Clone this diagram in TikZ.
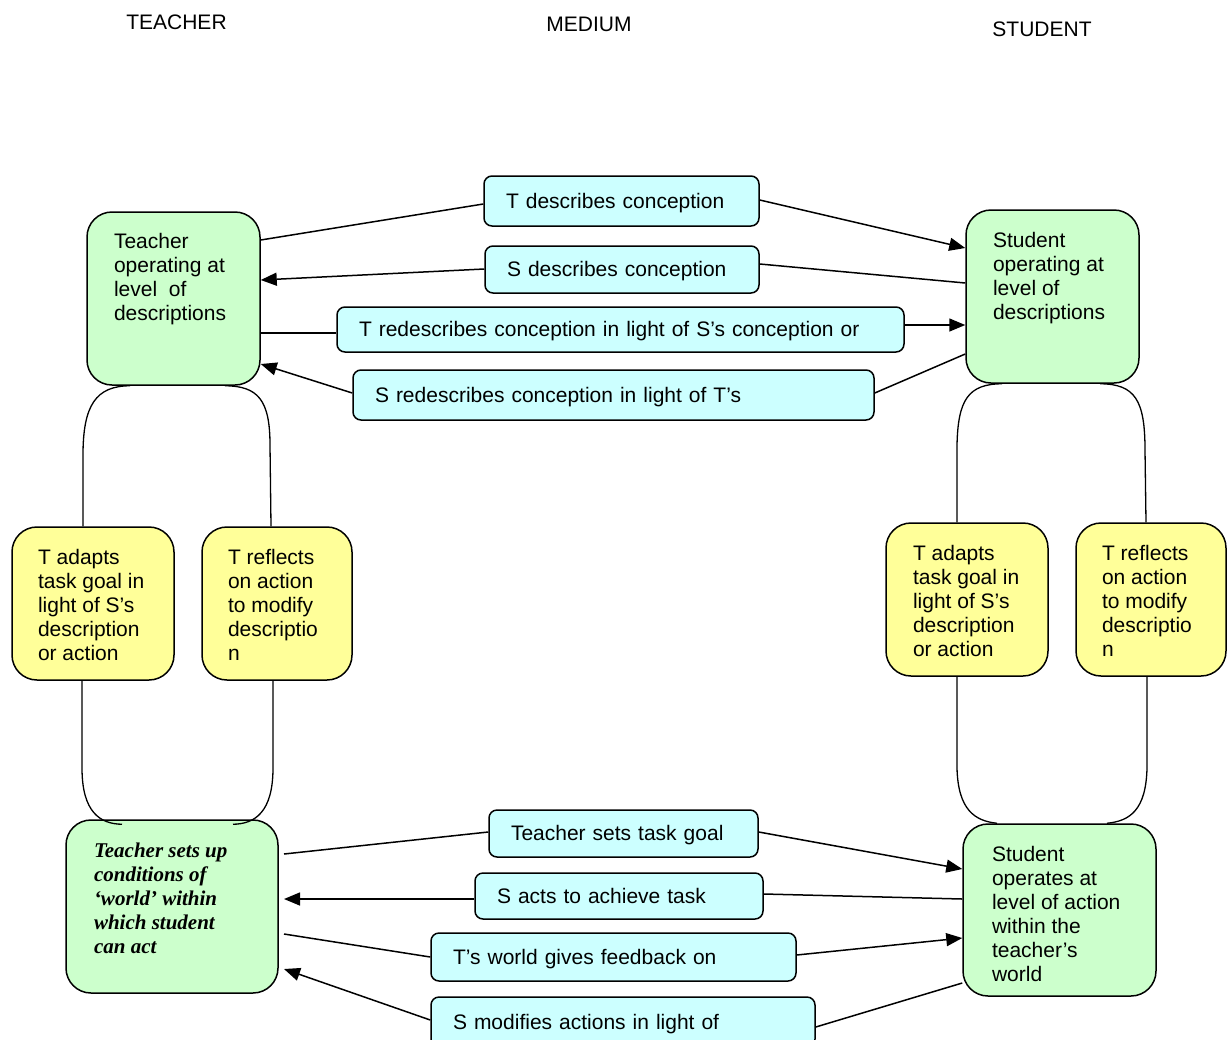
\documentclass[tikz,border=0pt]{standalone}
\usepackage{fontspec}
\setmainfont{Liberation Sans}
\newfontfamily\serifbi{Liberation Serif}
\usetikzlibrary{arrows.meta,calc}
\definecolor{gfill}{HTML}{CCFFCC}
\definecolor{cfill}{HTML}{CCFFFF}
\definecolor{yfill}{HTML}{FFFF99}
\newcommand{\boxtxt}[3]{\parbox[c][#2][t]{#1}{#3}}
\begin{document}
\begin{tikzpicture}[x=1pt,y=-1pt,
  every node/.style={font=\fontsize{21}{24}\selectfont},
  bigbox/.style={draw, line width=1.5pt, rounded corners=25pt, inner sep=0pt},
  gbox/.style={bigbox, fill=gfill},
  ybox/.style={bigbox, fill=yfill},
  cbox/.style={draw, line width=1.5pt, fill=cfill, rounded corners=8pt, inner xsep=22pt, inner ysep=0pt, align=left, text height=14pt, text depth=0pt},
  conn/.style={line width=1.5pt},
  arr/.style={conn, -{Triangle[length=16pt,width=13pt]}},
  curve/.style={line width=1.3pt},
  title/.style={inner sep=0pt}]
\clip (0,0) rectangle (1228,1039);
\fill[white] (0,0) rectangle (1228,1039);

% titles
\node[title] (tT) at (176.5,22) {TEACHER};
\node[title] (tM) at (589,24) {MEDIUM};
\node[title] (tS) at (1042,29) {STUDENT};

% green boxes
\node[gbox, minimum width=173pt, minimum height=173pt] (TD) at (173.5,298.5)
  {\boxtxt{119pt}{131pt}{Teacher\\operating at\\level\ \ of\\descriptions}};
\node[gbox, minimum width=173pt, minimum height=173pt] (SD) at (1052.5,296.5)
  {\boxtxt{119pt}{129pt}{Student\\operating at\\level of\\descriptions}};
\node[gbox, minimum width=212pt, minimum height=173pt, outer xsep=6pt] (TA) at (172,906.5)
  {\boxtxt{156pt}{127pt}{\serifbi\bfseries\itshape Teacher sets up\\conditions of\\‘world’ within\\which student\\can act}};
\node[gbox, minimum width=193pt, minimum height=172pt] (SA) at (1059.5,910)
  {\boxtxt{135pt}{128pt}{Student\\operates at\\level of action\\within the\\teacher’s\\world}};

% yellow boxes
\node[ybox, minimum width=162pt, minimum height=153pt] (L1) at (93,603.5)
  {\boxtxt{110pt}{109pt}{T adapts\\task goal in\\light of S’s\\description\\or action}};
\node[ybox, minimum width=150pt, minimum height=153pt] (L2) at (277,603.5)
  {\boxtxt{98pt}{109pt}{T reflects\\on action\\to modify\\descriptio\\n}};
\node[ybox, minimum width=162pt, minimum height=153pt] (R1) at (967,599.5)
  {\boxtxt{108pt}{109pt}{T adapts\\task goal in\\light of S’s\\description\\or action}};
\node[ybox, minimum width=150pt, minimum height=153pt] (R2) at (1151,599.5)
  {\boxtxt{98pt}{109pt}{T reflects\\on action\\to modify\\descriptio\\n}};

% cyan boxes
\node[cbox, text width=231pt, minimum height=50pt] (C1) at (621.5,201) {T describes conception};
\node[cbox, text width=230pt, minimum height=47pt] (C2) at (622,269.5) {S describes conception};
\node[cbox, text width=523pt, minimum height=45pt] (C3) at (620.5,329.5) {T redescribes conception in light of S’s conception or};
\node[cbox, text width=477pt, minimum height=50pt] (C4) at (613.5,395) {S redescribes conception in light of T’s};
\node[cbox, text width=225pt, minimum height=47pt] (C5) at (623.5,833.5) {Teacher sets task goal};
\node[cbox, text width=244pt, minimum height=46pt] (C6) at (619,896) {S acts to achieve task};
\node[cbox, text width=321pt, minimum height=48pt] (C7) at (613.5,957) {T’s world gives feedback on};
\node[cbox, text width=340pt, minimum height=50pt] (C8) at (623,1022) {S modifies actions in light of};

% top connectors
\draw[conn] (TD.east |- 0,240) -- (C1.west |- 0,204);
\draw[arr]  (C1.east |- 0,200) -- (SD.west |- 0,248);
\draw[conn] (SD.west |- 0,283) -- (C2.east |- 0,264);
\draw[arr]  (C2.west |- 0,269) -- (TD.east |- 0,280);
\draw[conn] (TD.east |- 0,333) -- (C3.west |- 0,333);
\draw[arr]  (C3.east |- 0,325) -- (SD.west |- 0,325);
\draw[conn] (SD.west |- 0,354) -- (C4.east |- 0,393);
\draw[arr]  (C4.west |- 0,393) -- (TD.east |- 0,364);

% bottom connectors
\draw[conn] (TA.east |- 0,854) -- (C5.west |- 0,832);
\draw[arr]  (C5.east |- 0,832) -- (SA.west |- 0,869);
\draw[conn] (SA.west |- 0,899) -- (C6.east |- 0,894);
\draw[arr]  (C6.west |- 0,899) -- (TA.east |- 0,899);
\draw[conn] (TA.east |- 0,934) -- (C7.west |- 0,957);
\draw[arr]  (C7.east |- 0,955) -- (SA.west |- 0,938);
\draw[conn] (SA.west |- 0,983) -- (C8.east |- 0,1027);
\draw[arr]  (C8.west |- 0,1020) -- (TA.east |- 0,969);

% left loops
\draw[curve] (TD.south -| 130,0) .. controls (96,386) and (83,405) .. (83,455) -- (L1.north -| 83,0);
\draw[curve] (TD.south -| 225,0) .. controls (258,386) and (270,400) .. (270,445) -- (L2.north -| 271,0);
\draw[curve] (L1.south -| 82,0) -- (82,768) .. controls (82,812) and (100,824) .. ($(TA.north -| 122,0)+(0,5)$);
\draw[curve] (L2.south -| 273,0) -- (273,768) .. controls (273,812) and (255,824) .. ($(TA.north -| 233,0)+(0,5)$);

% right loops
\draw[curve] (SD.south -| 1002,0) .. controls (968,384) and (958,400) .. (957,445) -- (R1.north -| 957,0);
\draw[curve] (SD.south -| 1100,0) .. controls (1135,384) and (1145,400) .. (1145,450) -- (R2.north -| 1146,0);
\draw[curve] (R1.south -| 957,0) -- (957,768) .. controls (958,810) and (975,821) .. (SA.north -| 997,0);
\draw[curve] (R2.south -| 1147,0) -- (1147,768) .. controls (1146,810) and (1130,821) .. (SA.north -| 1107,0);
\end{tikzpicture}
\end{document}
